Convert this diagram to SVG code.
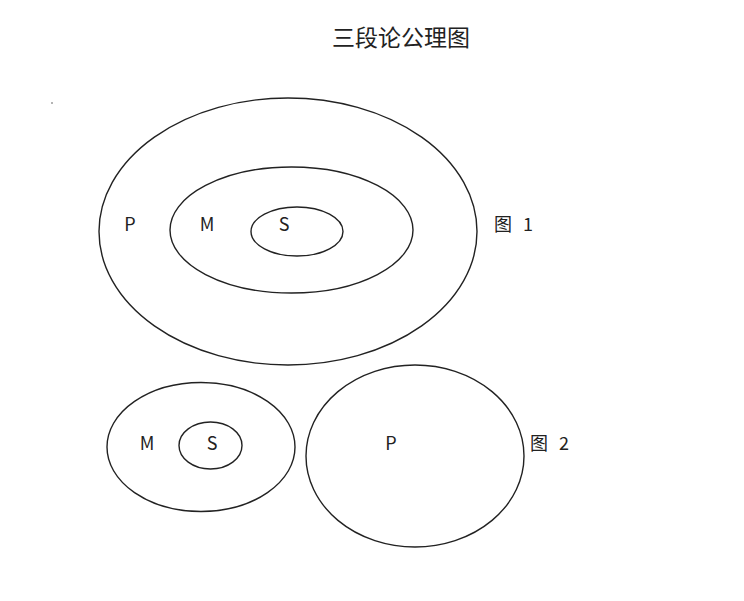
<svg xmlns="http://www.w3.org/2000/svg" width="744" height="601" viewBox="0 0 744 601">
<style>
.e{fill:none;stroke:#222;stroke-width:1.4}
.t{font-family:"Noto Sans CJK SC","Liberation Sans",sans-serif;font-size:18px;fill:#222;text-anchor:middle}
.title{font-family:"Noto Sans CJK SC",sans-serif;font-size:23px;fill:#222;text-anchor:middle}
</style>
<rect width="744" height="601" fill="#fff"/>
<text class="title" x="401" y="46">三段论公理图</text>
<circle cx="52" cy="103" r="0.8" fill="#555"/>
<g id="fig1">
<g id="P1"><ellipse class="e" cx="288" cy="231.5" rx="189" ry="133.5"/><text class="t" x="130" y="231">P</text></g>
<g id="M1"><ellipse class="e" cx="291.5" cy="230" rx="121.5" ry="63"/><text class="t" x="207" y="231">M</text></g>
<g id="S1"><ellipse class="e" cx="297" cy="231.5" rx="46" ry="24.5"/><text class="t" x="284" y="231">S</text></g>
<text class="t" x="503" y="231">图</text><text class="t" x="528" y="231">1</text>
</g>
<g id="fig2">
<g id="M2"><ellipse class="e" cx="201" cy="447" rx="94" ry="64.5"/><text class="t" x="147" y="450">M</text></g>
<g id="S2"><ellipse class="e" cx="210.5" cy="445.5" rx="31.5" ry="23.5"/><text class="t" x="212" y="450">S</text></g>
<g id="P2"><ellipse class="e" cx="415" cy="456" rx="109" ry="91"/><text class="t" x="391" y="450">P</text></g>
<text class="t" x="539" y="450">图</text><text class="t" x="564" y="450">2</text>
</g>
<g id="connectors"/>
</svg>
